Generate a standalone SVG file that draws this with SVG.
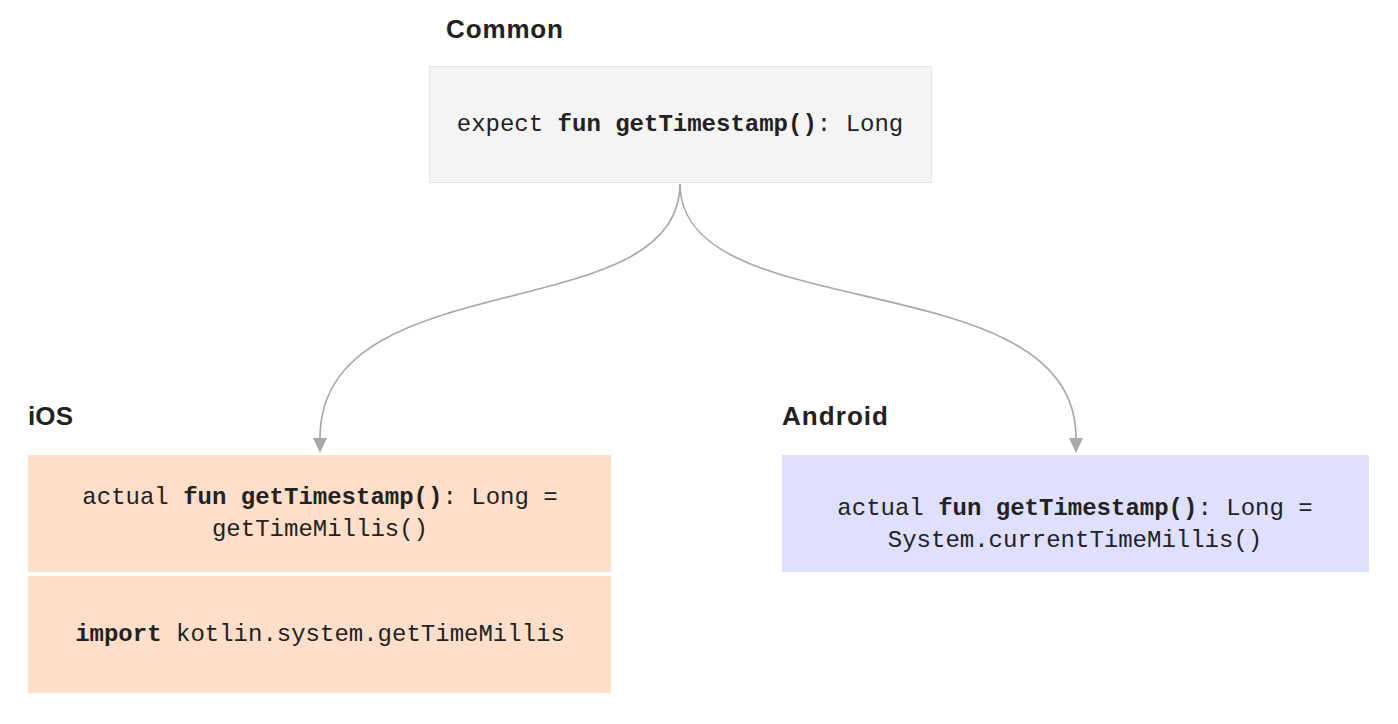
<svg xmlns="http://www.w3.org/2000/svg" width="1398" height="724" viewBox="0 0 1398 724">
<defs>
<style>
.hdr{font-family:"Liberation Sans",Arial,sans-serif;font-weight:bold;font-size:26px;fill:#222}
.code{font-family:"Liberation Mono","DejaVu Sans Mono",monospace;font-size:24px;fill:#222;text-anchor:middle}
.b{font-weight:bold}
.edge{fill:none;stroke:#a8a8a8;stroke-width:1.7}
.head{fill:#a8a8a8}
</style>
</defs>
<rect width="1398" height="724" fill="#ffffff"/>
<g id="connectors">
<path class="edge" d="M680,184 C680,330 320,260 320,438"/>
<path class="head" d="M313,438 L327,438 L320,453 Z"/>
<path class="edge" d="M680,184 C680,330 1076,260 1076,438"/>
<path class="head" d="M1069,438 L1083,438 L1076,453 Z"/>
</g>
<g id="common">
<text class="hdr" x="446" y="38" textLength="117">Common</text>
<rect x="429.5" y="66.5" width="502" height="116" fill="#f4f4f4" stroke="#e4e4e4"/>
<text class="code" x="680" y="131">expect <tspan class="b">fun getTimestamp()</tspan>: Long</text>
</g>
<g id="ios">
<text class="hdr" x="28" y="425" textLength="45">iOS</text>
<rect x="28" y="455" width="583" height="117" fill="#ffdfca"/>
<rect x="28" y="576" width="583" height="117" fill="#ffdfca"/>
<text class="code" x="320" y="504">actual <tspan class="b">fun getTimestamp()</tspan>: Long =</text>
<text class="code" x="320" y="536">getTimeMillis()</text>
<text class="code" x="320" y="641"><tspan class="b">import</tspan> kotlin.system.getTimeMillis</text>
</g>
<g id="android">
<text class="hdr" x="782" y="425" textLength="106">Android</text>
<rect x="782" y="455" width="587" height="117" fill="#dfdfff"/>
<text class="code" x="1075" y="515">actual <tspan class="b">fun getTimestamp()</tspan>: Long =</text>
<text class="code" x="1075" y="547">System.currentTimeMillis()</text>
</g>
</svg>
